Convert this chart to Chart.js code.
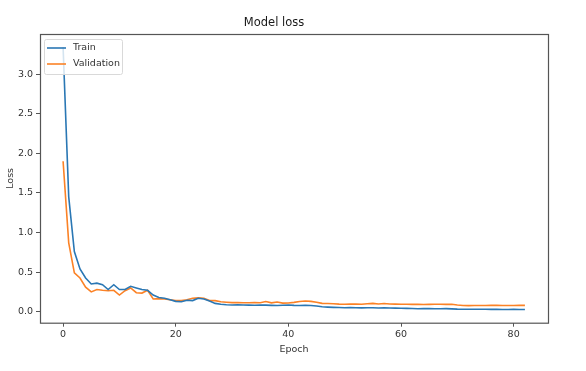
<!DOCTYPE html>
<html>
<head>
<meta charset="utf-8">
<script src="https://cdn.jsdelivr.net/npm/chart.js@4.4.0/dist/chart.umd.min.js"></script>
<style>
  html, body { margin: 0; padding: 0; background: #fff; }
  #wrap { width: 586px; height: 371px; position: relative; }
</style>
</head>
<body>
<div id="wrap"><canvas id="lossChart"></canvas></div>
<script>
const seriesNames = ["Train", "Validation"];
const xTicks = [0, 20, 40, 60, 80];
const yTicks = [0, 0.5, 1.0, 1.5, 2.0, 2.5, 3.0];

// loss per epoch (epoch = index)
const trainLoss = [
  3.34, 1.45, 0.76, 0.54, 0.425, 0.35, 0.36, 0.34, 0.28, 0.34,
  0.28, 0.28, 0.32, 0.30, 0.28, 0.27, 0.21, 0.18, 0.17, 0.15,
  0.13, 0.125, 0.145, 0.14, 0.17, 0.16, 0.135, 0.105, 0.093, 0.088,
  0.085, 0.086, 0.084, 0.083, 0.082, 0.085, 0.083, 0.080, 0.078, 0.082,
  0.085, 0.080, 0.079, 0.080, 0.078, 0.072, 0.062, 0.058, 0.055, 0.052,
  0.050, 0.052, 0.049, 0.048, 0.050, 0.049, 0.047, 0.048, 0.046, 0.045,
  0.043, 0.042, 0.041, 0.038, 0.040, 0.039, 0.037, 0.038, 0.039, 0.036,
  0.032, 0.031, 0.031, 0.030, 0.030, 0.031, 0.029, 0.029, 0.028, 0.028,
  0.029, 0.028, 0.028
];
const valLoss = [
  1.90, 0.87, 0.49, 0.425, 0.31, 0.25, 0.28, 0.27, 0.265, 0.27,
  0.21, 0.265, 0.30, 0.24, 0.235, 0.27, 0.16, 0.165, 0.16, 0.15,
  0.14, 0.14, 0.15, 0.17, 0.175, 0.17, 0.14, 0.14, 0.126, 0.12,
  0.115, 0.114, 0.112, 0.113, 0.115, 0.112, 0.128, 0.112, 0.122, 0.108,
  0.110, 0.118, 0.128, 0.135, 0.130, 0.120, 0.105, 0.104, 0.100, 0.095,
  0.093, 0.095, 0.098, 0.094, 0.100, 0.105, 0.098, 0.103, 0.097, 0.095,
  0.093, 0.094, 0.092, 0.093, 0.090, 0.092, 0.094, 0.093, 0.092, 0.094,
  0.085, 0.078, 0.077, 0.078, 0.079, 0.079, 0.080, 0.080, 0.079, 0.078,
  0.079, 0.080, 0.080
];

const FONT = "'DejaVu Sans', sans-serif";
const colors = ["#2a77b4", "#fb8226"];

function toPoints(arr) {
  return arr.map((v, i) => ({ x: i, y: v }));
}

// box round the axes + the legend in the upper left corner
const framePlugin = {
  id: "frame",
  afterDraw(chart) {
    const { ctx, chartArea: a } = chart;
    ctx.save();
    ctx.strokeStyle = "#555";
    ctx.lineWidth = 1.2;
    ctx.strokeRect(a.left + 0.5, a.top + 0.5, a.right - a.left, a.bottom - a.top);

    // legend
    const bx = a.left + 4.5, by = a.top + 5.5, bw = 78, bh = 35;
    ctx.fillStyle = "rgba(255,255,255,0.8)";
    ctx.strokeStyle = "#d9d9d9";
    ctx.lineWidth = 1;
    ctx.beginPath();
    ctx.roundRect(bx, by, bw, bh, 2);
    ctx.fill();
    ctx.stroke();
    ctx.font = "9.5px " + FONT;
    ctx.textBaseline = "middle";
    seriesNames.forEach((name, i) => {
      const y = a.top + 14 + i * 16;
      ctx.strokeStyle = colors[i];
      ctx.lineWidth = 1.6;
      ctx.beginPath();
      ctx.moveTo(a.left + 7, y);
      ctx.lineTo(a.left + 26, y);
      ctx.stroke();
      ctx.fillStyle = "#333";
      ctx.fillText(name, a.left + 33, y);
    });
    ctx.restore();
  },
};

const ctx = document.getElementById("lossChart").getContext("2d");
new Chart(ctx, {
  type: "line",
  data: {
    datasets: [
      {
        label: seriesNames[0],
        data: toPoints(trainLoss),
        borderColor: colors[0],
        borderWidth: 1.6,
        pointRadius: 0,
        tension: 0,
      },
      {
        label: seriesNames[1],
        data: toPoints(valLoss),
        borderColor: colors[1],
        borderWidth: 1.6,
        pointRadius: 0,
        tension: 0,
      },
    ],
  },
  options: {
    responsive: true,
    maintainAspectRatio: false,
    animation: false,
    layout: { padding: { top: 0, right: 38, bottom: 0, left: 0 } },
    plugins: {
      legend: { display: false },
      tooltip: { enabled: false },
      title: {
        display: true,
        text: "Model loss",
        color: "#1a1a1a",
        font: { family: FONT, size: 11.5, weight: "normal" },
        padding: { top: 16, bottom: 4.2 },
      },
    },
    scales: {
      x: {
        type: "linear",
        min: -4.1,
        max: 86.1,
        afterBuildTicks: (s) => { s.ticks = xTicks.map((v) => ({ value: v })); },
        afterFit: (s) => { s.height = 48.3; },
        grid: { drawOnChartArea: false, drawTicks: true, tickLength: 4, color: "#555" },
        border: { display: false },
        ticks: {
          color: "#333",
          font: { family: FONT, size: 9.5 },
          padding: 2,
          maxRotation: 0,
        },
        title: {
          display: true,
          text: "Epoch",
          color: "#333",
          font: { family: FONT, size: 9.5 },
          padding: { top: 0, bottom: 16 },
        },
      },
      y: {
        type: "linear",
        min: -0.139,
        max: 3.506,
        afterBuildTicks: (s) => { s.ticks = yTicks.map((v) => ({ value: v })); },
        afterFit: (s) => { s.width = 40; },
        grid: { drawOnChartArea: false, drawTicks: true, tickLength: 4, color: "#555" },
        border: { display: false },
        ticks: {
          color: "#333",
          font: { family: FONT, size: 9.5 },
          padding: 3,
          callback: (v) => v.toFixed(1),
        },
        title: {
          display: true,
          text: "Loss",
          color: "#333",
          font: { family: FONT, size: 9.5 },
          padding: { top: 5, bottom: 0 },
        },
      },
    },
  },
  plugins: [framePlugin],
});
</script>
</body>
</html>
